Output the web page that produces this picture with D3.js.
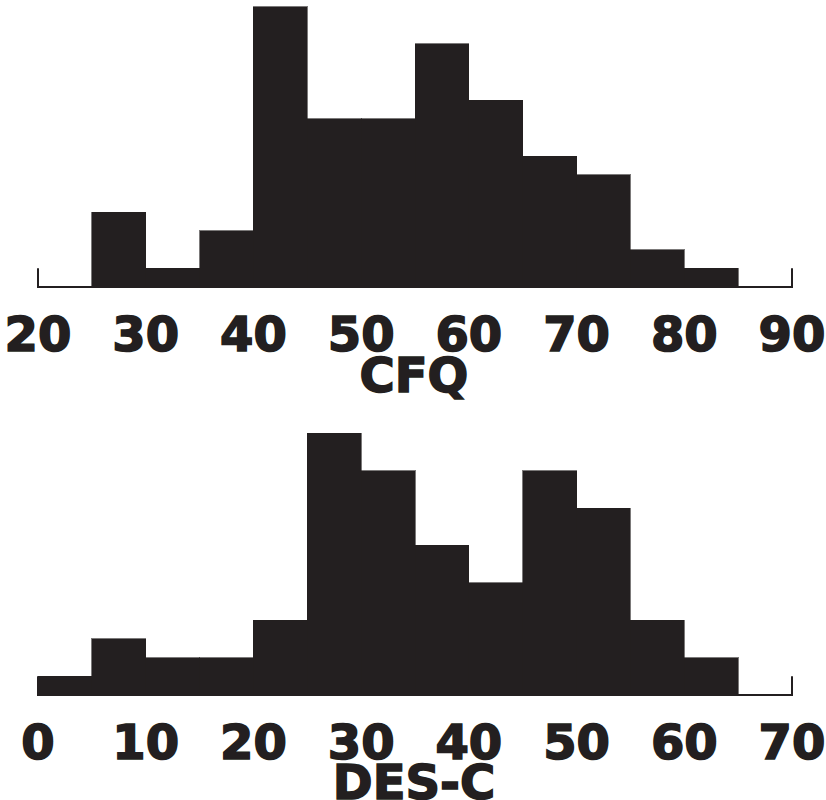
<!DOCTYPE html>
<html>
<head>
<meta charset="utf-8">
<script src="https://cdn.jsdelivr.net/npm/d3@7"></script>
<style>
  body { margin: 0; background: #fff; }
  .label { font-family: "DejaVu Sans", sans-serif; font-weight: bold; font-size: 48px;
           fill: #231f20; stroke: #231f20; stroke-width: 1.6px; }
</style>
</head>
<body>
<div id="chart"></div>
<script>
//CFQ histogram data (bins of 5)
var cfqBins = [25, 30, 35, 40, 45, 50, 55, 60, 65, 70, 75, 80];
var cfqCounts = [4, 1, 3, 15, 9, 9, 13, 10, 7, 6, 2, 1];
var cfqTicks = [20, 30, 40, 50, 60, 70, 80, 90];

//DES-C histogram data (bins of 5)
var desBins = [0, 5, 10, 15, 20, 25, 30, 35, 40, 45, 50, 55, 60];
var desCounts = [1, 3, 2, 2, 4, 14, 12, 8, 6, 12, 10, 4, 2];
var desTicks = [0, 10, 20, 30, 40, 50, 60, 70];

var width = 826;
var height = 800;
var ink = "#231f20";
var unit = 18.7; //pixels per count

var svg = d3.select("#chart")
.append("svg")
.attr("width", width)
.attr("height", height);

//draw one histogram panel
function histogram(bins, counts, ticks, title, base, labelY, titleY) {
  var x = d3.scaleLinear()
  .domain([ticks[0], ticks[ticks.length - 1]])
  .range([38, 792]);

  var y = d3.scaleLinear()
  .domain([0, 1])
  .range([base, base - unit]);

  var step = bins[1] - bins[0];
  var g = svg.append("g");

  //bars
  g.selectAll("rect")
  .data(bins)
  .enter()
  .append("rect")
  .attr("x", function(d) { return x(d); })
  .attr("width", function(d) { return x(d + step) - x(d); })
  .attr("y", function(d, i) { return y(counts[i]); })
  .attr("height", function(d, i) { return base - y(counts[i]); })
  .attr("fill", ink)
  .attr("stroke", ink)
  .attr("stroke-width", 0.6)
  .attr("shape-rendering", "crispEdges");

  //baseline with end ticks
  var x0 = x.range()[0], x1 = x.range()[1];
  g.append("path")
  .attr("d", "M" + x0 + "," + y(1) + "V" + base + "H" + x1 + "V" + y(1))
  .attr("fill", "none")
  .attr("stroke", ink)
  .attr("stroke-width", 2);

  //tick labels
  g.selectAll("text.tick")
  .data(ticks)
  .enter()
  .append("text")
  .attr("class", "label tick")
  .attr("x", function(d) { return x(d); })
  .attr("y", labelY)
  .attr("text-anchor", "middle")
  .text(function(d) { return d; });

  //axis title
  g.append("text")
  .attr("class", "label")
  .attr("x", 414)
  .attr("y", titleY)
  .attr("text-anchor", "middle")
  .text(title);
}

histogram(cfqBins, cfqCounts, cfqTicks, "CFQ", 287, 351, 392);
histogram(desBins, desCounts, desTicks, "DES-C", 695, 759, 799);
</script>
</body>
</html>
